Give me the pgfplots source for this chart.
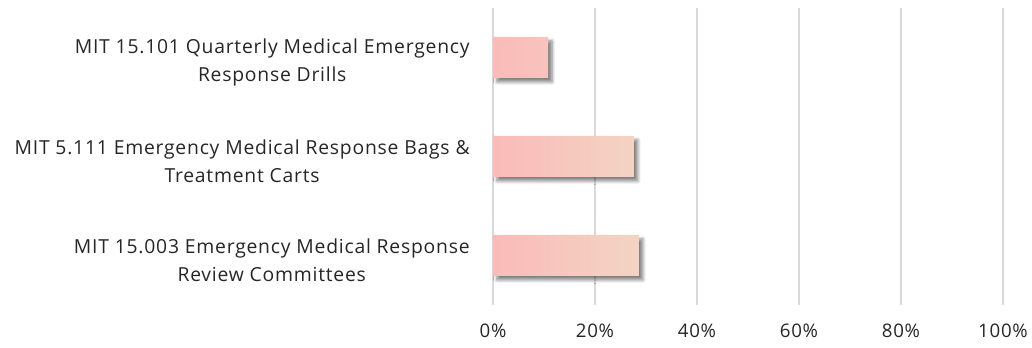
\documentclass[border=0pt]{standalone}
\usepackage{fontspec}
\setmainfont[LetterSpace=4]{Open Sans}
\usepackage{pgfplots}
\pgfplotsset{compat=1.18}
\usetikzlibrary{shadows.blur}
\definecolor{barL}{HTML}{FABBB9}
\definecolor{barR}{HTML}{F3D4C4}
\definecolor{gridc}{HTML}{D9D9D9}
\begin{document}
\begin{tikzpicture}
\begin{axis}[
  scale only axis,
  width=382.5pt, height=222.75pt,
  xbar, bar width=30.75pt,
  xmin=0, xmax=100,
  ymin=-0.5, ymax=2.5,
  y dir=reverse,
  ytick={0,1,2},
  yticklabels={{MIT 15.101 Quarterly Medical Emergency\\Response Drills},
               {MIT 5.111 Emergency Medical Response Bags \&\\Treatment Carts},
               {MIT 15.003 Emergency Medical Response\\Review Committees}},
  yticklabel style={align=center, font=\fontsize{14.5}{21}\selectfont, text=black!85},
  xtick={0,20,40,60,80,100},
  xticklabel={\pgfmathprintnumber{\tick}\%},
  xticklabel style={font=\fontsize{14}{16}\selectfont, text=black!85, yshift=-11pt},
  /pgf/number format/assume math mode=true,
  xmajorgrids, grid style={gridc, line width=1.3pt},
  axis line style={draw=none},
  major tick length=0pt,
  ytick style={draw=none}, xtick style={draw=none},
  y tick label style={xshift=-14pt, yshift=-3.5pt},
]
\addplot[draw=none, left color=barL, right color=barR,
  blur shadow={shadow xshift=3pt, shadow yshift=-3pt, shadow opacity=50, shadow blur steps=6, shadow blur radius=2.5pt}]
  coordinates {(10.8,0) (27.6,1) (28.6,2)};
\end{axis}
\pgfresetboundingbox
\path[use as bounding box] (-369.75pt,-32.25pt) rectangle (404.25pt,228.75pt);
\end{tikzpicture}
\end{document}
